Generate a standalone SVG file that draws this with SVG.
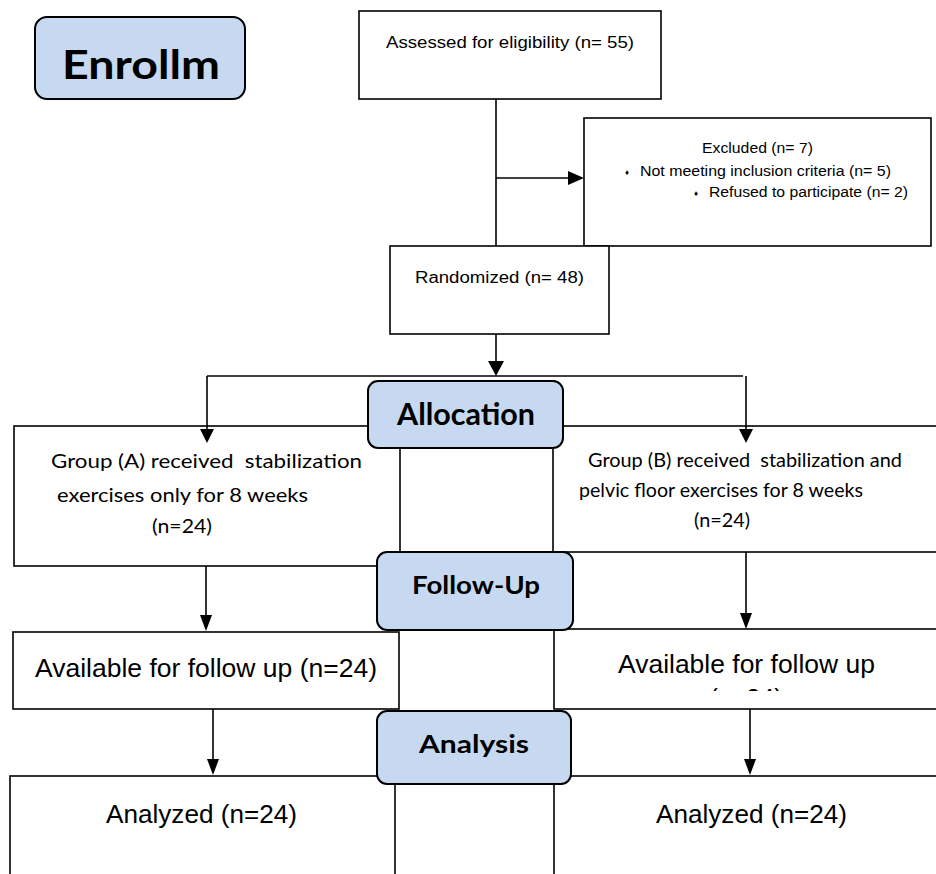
<svg xmlns="http://www.w3.org/2000/svg" width="936" height="874" viewBox="0 0 936 874">
<defs>
<style>
.box{fill:#fff;stroke:#000;stroke-width:1.6}
.phase{fill:#c6d9f0;stroke:#000;stroke-width:2}
.ln{fill:none;stroke:#000;stroke-width:1.6}
.ar{fill:#000}
.t1{font-family:"Liberation Sans",Arial,sans-serif;fill:#000}
.t2{font-family:Lato,"Open Sans",sans-serif;fill:#000}
.lbl{font-family:Lato,"Open Sans",sans-serif;font-weight:bold;fill:#000;text-anchor:middle}
</style>
<clipPath id="clipB"><rect x="554" y="629" width="382" height="62"/></clipPath>
</defs>

<g id="enrollment">
<rect class="phase" x="35" y="17" width="210" height="82" rx="12"/>
<text class="lbl" x="141" y="79" font-size="40" textLength="158" lengthAdjust="spacingAndGlyphs">Enrollm</text>
</g>

<g id="assessed">
<rect class="box" x="359" y="11" width="302" height="88"/>
<text class="t1" x="386" y="48" font-size="16" textLength="248" lengthAdjust="spacingAndGlyphs">Assessed for eligibility (n= 55)</text>
</g>

<g id="excluded">
<rect class="box" x="584" y="118" width="347" height="128"/>
<text class="t1" x="702" y="153" font-size="14" textLength="111" lengthAdjust="spacingAndGlyphs">Excluded (n= 7)</text>
<text class="t1" x="625" y="175" font-size="8">♦</text>
<text class="t1" x="640" y="176" font-size="14" textLength="251" lengthAdjust="spacingAndGlyphs">Not meeting inclusion criteria (n= 5)</text>
<text class="t1" x="694" y="196" font-size="8">♦</text>
<text class="t1" x="709" y="197" font-size="14" textLength="199" lengthAdjust="spacingAndGlyphs">Refused to participate (n= 2)</text>
</g>

<g id="randomized">
<rect class="box" x="390" y="246" width="219" height="88"/>
<text class="t1" x="415" y="283" font-size="16" textLength="169" lengthAdjust="spacingAndGlyphs">Randomized (n= 48)</text>
</g>

<g id="groupA">
<rect class="box" x="14" y="426" width="386" height="140"/>
<text class="t2" x="51" y="468" font-size="20" textLength="311" lengthAdjust="spacingAndGlyphs">Group (A) received&#160; stabilization</text>
<text class="t2" x="57" y="502" font-size="20" textLength="251" lengthAdjust="spacingAndGlyphs">exercises only for 8 weeks</text>
<text class="t2" x="152" y="533" font-size="20" textLength="60" lengthAdjust="spacingAndGlyphs">(n=24)</text>
</g>

<g id="groupB">
<rect class="box" x="553" y="426" width="390" height="126"/>
<text class="t2" x="588" y="467" font-size="20" textLength="314" lengthAdjust="spacingAndGlyphs">Group (B) received&#160; stabilization and</text>
<text class="t2" x="579" y="497" font-size="20" textLength="284" lengthAdjust="spacingAndGlyphs">pelvic floor exercises for 8 weeks</text>
<text class="t2" x="694" y="527" font-size="20" textLength="56" lengthAdjust="spacingAndGlyphs">(n=24)</text>
</g>

<g id="availableA">
<rect class="box" x="13" y="632" width="386" height="77"/>
<text class="t1" x="35" y="677" font-size="25" textLength="342" lengthAdjust="spacingAndGlyphs">Available for follow up (n=24)</text>
</g>

<g id="availableB">
<rect class="box" x="554" y="629" width="390" height="80"/>
<text class="t1" x="618" y="673" font-size="25" textLength="257" lengthAdjust="spacingAndGlyphs">Available for follow up</text>
<text class="t1" x="746" y="707" font-size="25" text-anchor="middle" clip-path="url(#clipB)">(n=24)</text>
</g>

<g id="analyzedA">
<rect class="box" x="10" y="776" width="385" height="110"/>
<text class="t1" x="106" y="823" font-size="25" textLength="191" lengthAdjust="spacingAndGlyphs">Analyzed (n=24)</text>
</g>

<g id="analyzedB">
<rect class="box" x="554" y="776" width="390" height="110"/>
<text class="t1" x="656" y="823" font-size="25" textLength="191" lengthAdjust="spacingAndGlyphs">Analyzed (n=24)</text>
</g>

<g id="connectors">
<path class="ln" d="M496 99 V246"/>
<path class="ln" d="M496 178 H570"/>
<polygon class="ar" points="584,178 568,171 568,185"/>
<path class="ln" d="M496 334 V362"/>
<polygon class="ar" points="496,376 488,361 504,361"/>
<path class="ln" d="M207 376 H743"/>
<path class="ln" d="M207 376 V430"/>
<polygon class="ar" points="207,443 200,429 214,429"/>
<path class="ln" d="M746 376 V430"/>
<polygon class="ar" points="746,443 739,429 753,429"/>
<path class="ln" d="M206 566 V616"/>
<polygon class="ar" points="206,631 200,615 212,615"/>
<path class="ln" d="M746 552 V614"/>
<polygon class="ar" points="746,629 740,613 752,613"/>
<path class="ln" d="M213 709 V760"/>
<polygon class="ar" points="213,775 207,759 219,759"/>
<path class="ln" d="M750 709 V760"/>
<polygon class="ar" points="750,775 744,759 756,759"/>
</g>

<g id="allocation">
<rect class="phase" x="368" y="381" width="195" height="67" rx="10"/>
<text class="lbl" x="466" y="425" font-size="30" textLength="138" lengthAdjust="spacingAndGlyphs">Allocation</text>
</g>

<g id="followup">
<rect class="phase" x="377" y="552" width="196" height="78" rx="10"/>
<text class="lbl" x="476" y="594" font-size="25" textLength="128" lengthAdjust="spacingAndGlyphs">Follow-Up</text>
</g>

<g id="analysis">
<rect class="phase" x="377" y="711" width="194" height="73" rx="10"/>
<text class="lbl" x="474" y="753" font-size="25" textLength="110" lengthAdjust="spacingAndGlyphs">Analysis</text>
</g>
</svg>
